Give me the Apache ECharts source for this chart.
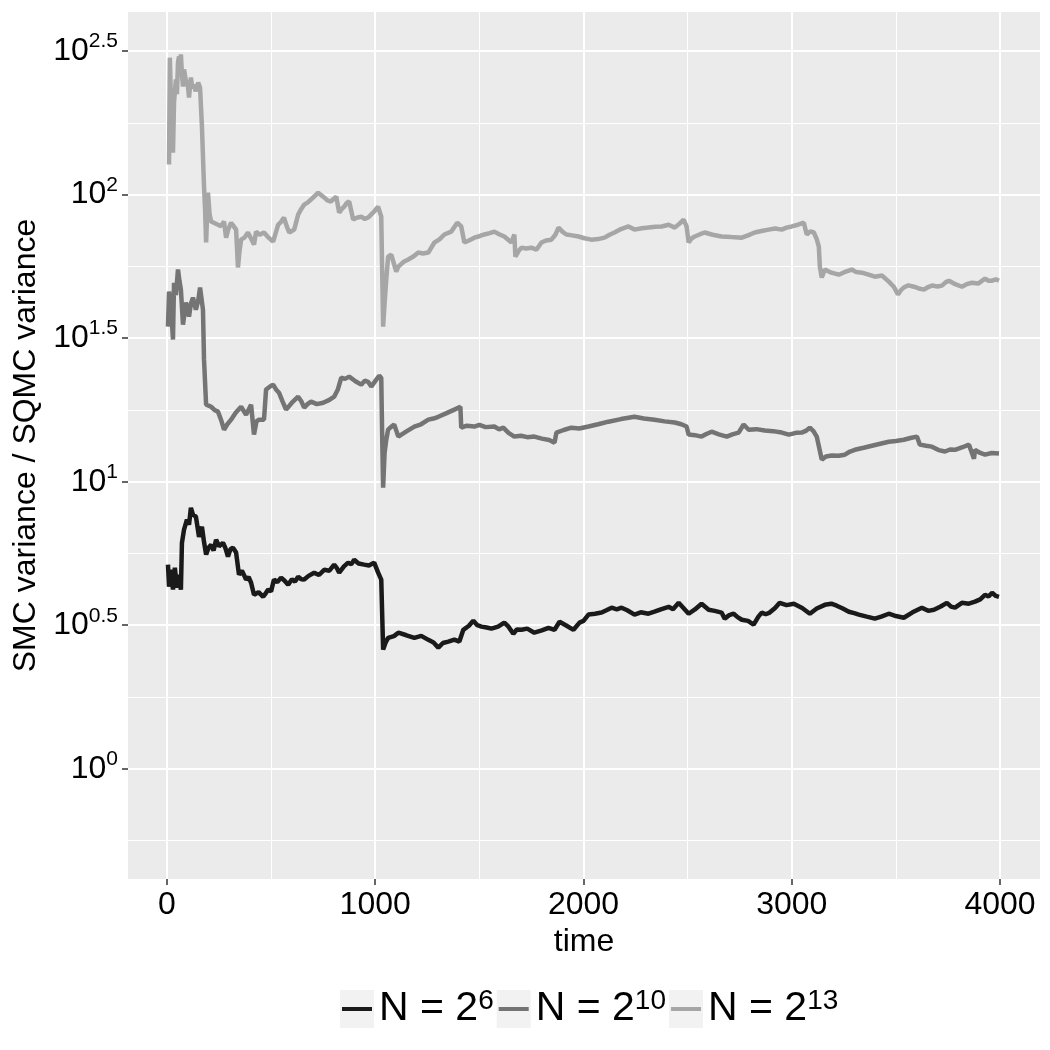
<!DOCTYPE html>
<html>
<head>
    <meta charset="utf-8">
    <script src="https://cdn.jsdelivr.net/npm/echarts@6/dist/echarts.min.js"></script>
</head>
<body style="margin:0; background:#fff;">
    <div id="main" style="width:1050px; height:1050px;"></div>
</body>
	<script type="text/javascript">
        // log10(SMC variance / SQMC variance) against time
        var names = ['N = 2^6', 'N = 2^10', 'N = 2^13'];
        var supers = ['6', '10', '13'];
        var colors = ['#1a1a1a', '#747474', '#a6a6a6'];

        var n6 = [[5,0.711],[10,0.634],[19,0.693],[29,0.624],[38,0.700],[48,0.631],[58,0.676],[67,0.624],[72,0.787],[82,0.833],[96,0.868],[106,0.850],[115,0.909],[125,0.885],[139,0.878],[154,0.808],[168,0.843],[178,0.790],[188,0.746],[200,0.770],[212,0.780],[224,0.760],[236,0.798],[250,0.775],[269,0.787],[280,0.770],[293,0.739],[305,0.765],[317,0.770],[332,0.753],[346,0.676],[360,0.690],[380,0.659],[392,0.668],[404,0.648],[418,0.606],[440,0.615],[462,0.599],[475,0.612],[486,0.624],[500,0.618],[514,0.659],[530,0.650],[548,0.666],[565,0.655],[582,0.641],[600,0.660],[615,0.652],[630,0.669],[645,0.660],[659,0.659],[680,0.672],[707,0.683],[730,0.675],[755,0.693],[780,0.690],[803,0.711],[815,0.700],[827,0.683],[850,0.705],[870,0.718],[885,0.712],[899,0.728],[920,0.715],[947,0.711],[970,0.708],[995,0.718],[1014,0.683],[1029,0.659],[1038,0.415],[1050,0.440],[1062,0.456],[1090,0.462],[1111,0.474],[1150,0.465],[1188,0.456],[1221,0.463],[1255,0.449],[1280,0.440],[1303,0.422],[1325,0.438],[1351,0.443],[1380,0.450],[1404,0.443],[1423,0.484],[1450,0.498],[1471,0.516],[1490,0.500],[1510,0.495],[1535,0.492],[1558,0.488],[1590,0.495],[1620,0.509],[1640,0.495],[1663,0.470],[1680,0.485],[1702,0.484],[1730,0.488],[1764,0.474],[1800,0.482],[1832,0.491],[1861,0.484],[1885,0.512],[1915,0.500],[1952,0.484],[1981,0.509],[2000,0.515],[2024,0.537],[2055,0.540],[2087,0.544],[2110,0.552],[2135,0.561],[2160,0.555],[2183,0.561],[2210,0.552],[2245,0.537],[2275,0.545],[2312,0.540],[2341,0.547],[2375,0.556],[2409,0.564],[2430,0.556],[2457,0.578],[2480,0.560],[2505,0.540],[2535,0.555],[2567,0.575],[2601,0.554],[2630,0.550],[2663,0.544],[2678,0.523],[2700,0.535],[2721,0.540],[2740,0.528],[2760,0.519],[2790,0.515],[2817,0.502],[2840,0.530],[2856,0.544],[2875,0.538],[2894,0.544],[2920,0.560],[2942,0.578],[2975,0.570],[3010,0.575],[3050,0.560],[3087,0.540],[3120,0.558],[3159,0.571],[3190,0.575],[3216,0.568],[3245,0.558],[3274,0.547],[3300,0.542],[3322,0.537],[3360,0.530],[3399,0.523],[3430,0.530],[3466,0.540],[3500,0.532],[3538,0.526],[3580,0.545],[3625,0.561],[3655,0.550],[3683,0.554],[3715,0.565],[3745,0.578],[3765,0.565],[3784,0.561],[3817,0.578],[3850,0.575],[3880,0.582],[3905,0.590],[3928,0.606],[3945,0.600],[3962,0.613],[3980,0.602],[3995,0.599]];

        var n10 = [[5,1.540],[10,1.662],[20,1.600],[29,1.495],[34,1.693],[43,1.650],[53,1.739],[60,1.700],[67,1.669],[77,1.547],[91,1.624],[106,1.575],[115,1.620],[125,1.641],[139,1.599],[150,1.630],[159,1.676],[173,1.599],[178,1.425],[188,1.268],[200,1.265],[212,1.261],[228,1.250],[245,1.244],[260,1.215],[274,1.181],[290,1.200],[308,1.216],[330,1.240],[356,1.261],[380,1.233],[404,1.268],[418,1.164],[430,1.210],[442,1.216],[466,1.216],[476,1.321],[492,1.330],[510,1.338],[525,1.320],[538,1.310],[555,1.280],[572,1.251],[600,1.275],[630,1.296],[645,1.280],[659,1.258],[675,1.270],[692,1.279],[720,1.270],[750,1.275],[780,1.285],[803,1.296],[820,1.320],[837,1.362],[855,1.358],[875,1.366],[905,1.350],[933,1.338],[950,1.352],[966,1.348],[981,1.331],[1000,1.350],[1019,1.369],[1029,1.362],[1034,1.136],[1038,0.979],[1045,1.100],[1053,1.146],[1062,1.181],[1075,1.190],[1091,1.199],[1111,1.157],[1150,1.175],[1188,1.192],[1220,1.200],[1255,1.216],[1280,1.220],[1303,1.226],[1340,1.238],[1380,1.251],[1409,1.261],[1413,1.188],[1440,1.195],[1476,1.192],[1500,1.198],[1530,1.190],[1572,1.192],[1595,1.182],[1615,1.188],[1640,1.170],[1668,1.157],[1700,1.160],[1730,1.155],[1764,1.157],[1800,1.150],[1835,1.145],[1861,1.136],[1870,1.171],[1905,1.180],[1942,1.188],[1980,1.185],[2024,1.192],[2070,1.200],[2120,1.209],[2180,1.218],[2245,1.226],[2290,1.220],[2341,1.216],[2390,1.210],[2438,1.206],[2470,1.200],[2495,1.192],[2505,1.164],[2535,1.162],[2567,1.157],[2590,1.166],[2615,1.174],[2650,1.165],[2688,1.157],[2715,1.165],[2745,1.171],[2769,1.199],[2793,1.181],[2830,1.183],[2870,1.178],[2910,1.176],[2952,1.171],[2986,1.164],[3020,1.170],[3048,1.171],[3070,1.178],[3087,1.188],[3105,1.175],[3120,1.157],[3144,1.077],[3165,1.088],[3192,1.091],[3225,1.090],[3255,1.094],[3280,1.105],[3303,1.111],[3345,1.118],[3385,1.125],[3425,1.132],[3466,1.139],[3500,1.142],[3538,1.146],[3570,1.152],[3601,1.157],[3615,1.129],[3645,1.125],[3673,1.122],[3705,1.110],[3736,1.105],[3760,1.112],[3784,1.111],[3820,1.120],[3851,1.129],[3875,1.080],[3880,1.111],[3905,1.100],[3928,1.094],[3960,1.100],[3995,1.098]];

        var n13 = [[10,2.105],[14,2.477],[20,2.300],[29,2.146],[34,2.321],[43,2.401],[48,2.350],[53,2.460],[58,2.481],[62,2.420],[67,2.488],[72,2.420],[77,2.376],[82,2.436],[90,2.400],[101,2.376],[106,2.338],[115,2.408],[122,2.370],[130,2.383],[137,2.360],[144,2.355],[150,2.390],[159,2.373],[168,2.237],[178,2.028],[183,1.950],[188,1.833],[197,2.007],[205,1.930],[212,1.906],[230,1.900],[245,1.895],[260,1.890],[274,1.906],[284,1.850],[295,1.880],[308,1.902],[320,1.890],[332,1.878],[341,1.746],[348,1.800],[356,1.843],[372,1.850],[389,1.868],[405,1.845],[418,1.826],[428,1.871],[445,1.860],[466,1.868],[488,1.850],[510,1.836],[534,1.895],[548,1.905],[562,1.920],[575,1.890],[587,1.868],[611,1.878],[630,1.930],[645,1.950],[659,1.965],[675,1.972],[692,1.983],[710,1.995],[726,2.007],[740,1.998],[755,1.990],[770,1.980],[788,1.976],[800,1.985],[813,1.993],[827,1.937],[840,1.950],[851,1.958],[862,1.970],[875,1.976],[894,1.913],[915,1.920],[933,1.923],[950,1.915],[966,1.920],[980,1.930],[995,1.941],[1014,1.958],[1029,1.923],[1038,1.540],[1045,1.620],[1053,1.704],[1062,1.784],[1077,1.791],[1101,1.732],[1111,1.749],[1135,1.765],[1159,1.774],[1185,1.785],[1207,1.798],[1230,1.795],[1255,1.798],[1284,1.833],[1310,1.845],[1332,1.861],[1365,1.871],[1394,1.902],[1413,1.889],[1428,1.833],[1450,1.840],[1476,1.850],[1500,1.855],[1524,1.861],[1550,1.866],[1572,1.871],[1595,1.862],[1620,1.854],[1654,1.833],[1668,1.861],[1673,1.784],[1690,1.805],[1702,1.815],[1725,1.812],[1750,1.815],[1774,1.808],[1798,1.833],[1820,1.840],[1846,1.843],[1865,1.860],[1880,1.885],[1900,1.870],[1918,1.861],[1945,1.858],[1976,1.854],[2005,1.848],[2038,1.843],[2070,1.845],[2101,1.850],[2125,1.860],[2149,1.868],[2180,1.880],[2216,1.889],[2245,1.878],[2280,1.883],[2312,1.885],[2345,1.888],[2375,1.889],[2409,1.895],[2438,1.885],[2460,1.898],[2481,1.913],[2495,1.889],[2505,1.833],[2520,1.848],[2534,1.854],[2560,1.862],[2582,1.868],[2620,1.860],[2663,1.854],[2710,1.852],[2760,1.850],[2790,1.858],[2822,1.868],[2855,1.873],[2889,1.878],[2920,1.882],[2952,1.878],[2975,1.885],[3000,1.889],[3030,1.895],[3058,1.902],[3072,1.861],[3090,1.872],[3106,1.868],[3120,1.845],[3130,1.819],[3135,1.749],[3144,1.711],[3159,1.739],[3190,1.728],[3226,1.721],[3260,1.732],[3288,1.739],[3310,1.730],[3337,1.728],[3365,1.722],[3399,1.714],[3433,1.718],[3466,1.697],[3490,1.679],[3510,1.652],[3525,1.668],[3538,1.676],[3560,1.684],[3587,1.679],[3610,1.673],[3635,1.669],[3655,1.678],[3673,1.683],[3700,1.680],[3721,1.683],[3740,1.695],[3755,1.700],[3785,1.688],[3817,1.679],[3840,1.688],[3865,1.693],[3895,1.690],[3928,1.707],[3945,1.700],[3962,1.700],[3980,1.705],[3995,1.700]];

        var xMajor = [0, 1000, 2000, 3000, 4000];
        var xMinor = [500, 1500, 2500, 3500];
        var yMajor = [0, 0.5, 1, 1.5, 2, 2.5];
        var yMinor = [-0.25, 0.25, 0.75, 1.25, 1.75, 2.25];

        var seriesData = [n6, n10, n13];
        var font = 'Liberation Sans';
        var xMin = -187, xMax = 4192, yMin = -0.384, yMax = 2.636;

        function legendRich(c) {
            return {
                n: { fontSize: 41, lineHeight: 44, color: c, fontFamily: font },
                s: { fontSize: 28, verticalAlign: 'top', color: c, fontFamily: font }
            };
        }
        function legendFmt(name) {
            return '{n|N = 2}{s|' + supers[names.indexOf(name)] + '}';
        }

        var myChart = echarts.init(document.getElementById('main'));
        var option = {
            animation: false,
            grid: { left: 128, right: 10, top: 12, bottom: 171, show: true,
                    backgroundColor: '#ebebeb', borderWidth: 0 },
            xAxis: [{
                type: 'value', min: xMin, max: xMax,
                axisLine: { show: false, onZero: false },
                axisTick: { customValues: xMajor, length: 6, lineStyle: { color: '#333', width: 1.5 } },
                axisLabel: { customValues: xMajor, fontSize: 32, color: '#000', margin: 10, fontFamily: font,
                             formatter: function (v) { return String(v); } },
                splitLine: { lineStyle: { color: '#fff', width: 2 } },
                name: 'time', nameLocation: 'middle', nameGap: 43,
                nameTextStyle: { fontSize: 32, color: '#000', fontFamily: font }
            }, {
                type: 'value', min: xMin, max: xMax,
                axisLine: { show: false, onZero: false },
                axisTick: { show: false, customValues: xMinor },
                axisLabel: { show: false },
                splitLine: { lineStyle: { color: '#fff', width: 1 } }
            }],
            yAxis: [{
                type: 'value', min: yMin, max: yMax,
                axisLine: { show: false, onZero: false },
                axisTick: { customValues: yMajor, length: 6, lineStyle: { color: '#333', width: 1.5 } },
                axisLabel: {
                    customValues: yMajor, margin: 10,
                    formatter: function (v) { return '{b|10}{s|' + v + '}'; },
                    rich: {
                        b: { fontSize: 32, lineHeight: 40, color: '#000', fontFamily: font },
                        s: { fontSize: 21, verticalAlign: 'top', color: '#000', fontFamily: font }
                    }
                },
                splitLine: { lineStyle: { color: '#fff', width: 2 } },
                name: 'SMC variance / SQMC variance', nameLocation: 'middle', nameGap: 84,
                nameTextStyle: { fontSize: 32, color: '#000', fontFamily: font }
            }, {
                type: 'value', min: yMin, max: yMax,
                axisLine: { show: false, onZero: false },
                axisTick: { show: false, customValues: yMinor },
                axisLabel: { show: false },
                splitLine: { lineStyle: { color: '#fff', width: 1 } }
            }],
            legend: [{
                data: names, left: 340, top: 987, orient: 'horizontal', padding: 0,
                itemWidth: 34, itemHeight: 38, itemGap: 3, selectedMode: false,
                icon: 'rect', itemStyle: { color: '#f2f2f2' },
                formatter: legendFmt,
                textStyle: { rich: legendRich('#000') }
            }, {
                data: names, left: 340, top: 987, orient: 'horizontal', padding: 0,
                itemWidth: 34, itemHeight: 38, itemGap: 3, selectedMode: false,
                icon: 'path://M0,0h0.01v0.01h-0.01z M2,17H32V21H2Z M33.99,37.99h0.01v0.01h-0.01z',
                formatter: legendFmt,
                textStyle: { rich: legendRich('rgba(0,0,0,0)') }
            }],
            series: names.map(function (nm, i) {
                return {
                    name: nm, type: 'line', data: seriesData[i],
                    showSymbol: false, color: colors[i],
                    itemStyle: { color: colors[i] },
                    lineStyle: { color: colors[i], width: 4.5 }
                };
            })
        };
        myChart.setOption(option);
    </script>
</html>
